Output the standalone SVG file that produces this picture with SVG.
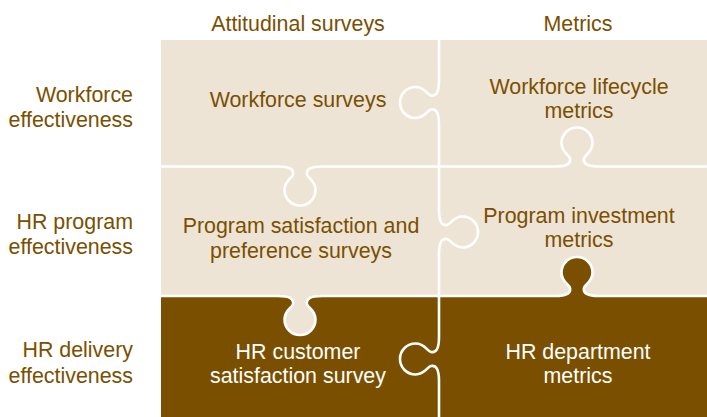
<svg xmlns="http://www.w3.org/2000/svg" width="707" height="417" viewBox="0 0 707 417">
  <style>
    .light { fill: #EEE4D6; }
    .dark { fill: #7A5000; }
    .seam { fill: none; stroke: #FFFFFF; stroke-width: 2.6; stroke-linejoin: round; stroke-linecap: butt; }
    text { font-family: "Liberation Sans", Arial, Helvetica, sans-serif; font-size: 21.4px; }
    .hdr { fill: #7A5000; text-anchor: middle; }
    .row { fill: #7A5000; text-anchor: end; }
    .on-light { fill: #7A5000; text-anchor: middle; }
    .on-dark { fill: #FFFFFF; text-anchor: middle; }
  </style>
  <rect width="707" height="417" fill="#FFFFFF"/>

  <!-- column headings -->
  <g id="column-headings">
    <text class="hdr" x="298" y="31">Attitudinal surveys</text>
    <text class="hdr" x="578" y="31">Metrics</text>
  </g>

  <!-- row headings -->
  <g id="row-headings">
    <text class="row" x="133" y="102">Workforce</text>
    <text class="row" x="133" y="127">effectiveness</text>
    <text class="row" x="133" y="229">HR program</text>
    <text class="row" x="133" y="254">effectiveness</text>
    <text class="row" x="133" y="357">HR delivery</text>
    <text class="row" x="133" y="383">effectiveness</text>
  </g>

  <!-- puzzle pieces -->
  <g id="workforce-surveys">
    <path class="light" d="M161,40 H439 V80.5 C439,92.5 436,96.5 431,95.5 C427,94.5 425,87 415.5,87 C406.94,87 400,93.94 400,102.5 C400,111.06 406.94,118 415.5,118 C425,118 427,110.5 431,109.5 C436,108.5 439,112.5 439,124.5 V166.5 H322 C310,166.5 306,169.5 307,174.5 C308,178.5 315.5,180.5 315.5,190 C315.5,198.56 308.56,205.5 300,205.5 C291.44,205.5 284.5,198.56 284.5,190 C284.5,180.5 292,178.5 293,174.5 C294,169.5 290,166.5 278,166.5 H161 Z"/>
    <text class="on-light" x="298" y="107">Workforce surveys</text>
  </g>

  <g id="workforce-lifecycle-metrics">
    <path class="light" d="M439,40 H707 V166.5 H599 C587,166.5 583,163.5 584,158.5 C585,154.5 592.5,152.5 592.5,143 C592.5,134.44 585.56,127.5 577,127.5 C568.44,127.5 561.5,134.44 561.5,143 C561.5,152.5 569,154.5 570,158.5 C571,163.5 567,166.5 555,166.5 H439 V124.5 C439,112.5 436,108.5 431,109.5 C427,110.5 425,118 415.5,118 C406.94,118 400,111.06 400,102.5 C400,93.94 406.94,87 415.5,87 C425,87 427,94.5 431,95.5 C436,96.5 439,92.5 439,80.5 Z"/>
    <text class="on-light" x="579" y="94">Workforce lifecycle</text>
    <text class="on-light" x="579" y="118">metrics</text>
  </g>

  <g id="program-investment-metrics">
    <path class="light" d="M439,166.5 H555 C567,166.5 571,163.5 570,158.5 C569,154.5 561.5,152.5 561.5,143 C561.5,134.44 568.44,127.5 577,127.5 C585.56,127.5 592.5,134.44 592.5,143 C592.5,152.5 585,154.5 584,158.5 C583,163.5 587,166.5 599,166.5 H707 V296 H599 C587,296 583,293 584,288 C585,284 592.5,282 592.5,272.5 C592.5,263.94 585.56,257 577,257 C568.44,257 561.5,263.94 561.5,272.5 C561.5,282 569,284 570,288 C571,293 567,296 555,296 H439 V254 C439,242 442,238 447,239 C451,240 453,247.5 462.5,247.5 C471.06,247.5 478,240.56 478,232 C478,223.44 471.06,216.5 462.5,216.5 C453,216.5 451,224 447,225 C442,226 439,222 439,210 Z"/>
    <text class="on-light" x="579" y="223">Program investment</text>
    <text class="on-light" x="579" y="247">metrics</text>
  </g>

  <g id="hr-department-metrics">
    <path class="dark" d="M439,296 H555 C567,296 571,293 570,288 C569,284 561.5,282 561.5,272.5 C561.5,263.94 568.44,257 577,257 C585.56,257 592.5,263.94 592.5,272.5 C592.5,282 585,284 584,288 C583,293 587,296 599,296 H707 V417 H439 V381 C439,369 436,365 431,366 C427,367 425,374.5 415.5,374.5 C406.94,374.5 400,367.56 400,359 C400,350.44 406.94,343.5 415.5,343.5 C425,343.5 427,351 431,352 C436,353 439,349 439,337 Z"/>
    <text class="on-dark" x="578" y="359">HR department</text>
    <text class="on-dark" x="578" y="383">metrics</text>
  </g>

  <g id="hr-customer-satisfaction-survey">
    <path class="dark" d="M161,296 H278 C290,296 294,299 293,304 C292,308 284.5,310 284.5,319.5 C284.5,328.06 291.44,335 300,335 C308.56,335 315.5,328.06 315.5,319.5 C315.5,310 308,308 307,304 C306,299 310,296 322,296 H439 V337 C439,349 436,353 431,352 C427,351 425,343.5 415.5,343.5 C406.94,343.5 400,350.44 400,359 C400,367.56 406.94,374.5 415.5,374.5 C425,374.5 427,367 431,366 C436,365 439,369 439,381 V417 H161 Z"/>
    <text class="on-dark" x="298" y="359">HR customer</text>
    <text class="on-dark" x="298" y="383">satisfaction survey</text>
  </g>

  <g id="program-satisfaction-surveys">
    <path class="light" d="M161,166.5 H278 C290,166.5 294,169.5 293,174.5 C292,178.5 284.5,180.5 284.5,190 C284.5,198.56 291.44,205.5 300,205.5 C308.56,205.5 315.5,198.56 315.5,190 C315.5,180.5 308,178.5 307,174.5 C306,169.5 310,166.5 322,166.5 H439 V210 C439,222 442,226 447,225 C451,224 453,216.5 462.5,216.5 C471.06,216.5 478,223.44 478,232 C478,240.56 471.06,247.5 462.5,247.5 C453,247.5 451,240 447,239 C442,238 439,242 439,254 V296 H322 C310,296 306,299 307,304 C308,308 315.5,310 315.5,319.5 C315.5,328.06 308.56,335 300,335 C291.44,335 284.5,328.06 284.5,319.5 C284.5,310 292,308 293,304 C294,299 290,296 278,296 H161 Z"/>
    <text class="on-light" x="301" y="233">Program satisfaction and</text>
    <text class="on-light" x="301" y="258">preference surveys</text>
  </g>

  <!-- cut lines between pieces -->
  <g id="seams">
    <path class="seam" d="M439,40 V80.5 C439,92.5 436,96.5 431,95.5 C427,94.5 425,87 415.5,87 C406.94,87 400,93.94 400,102.5 C400,111.06 406.94,118 415.5,118 C425,118 427,110.5 431,109.5 C436,108.5 439,112.5 439,124.5 V210 C439,222 442,226 447,225 C451,224 453,216.5 462.5,216.5 C471.06,216.5 478,223.44 478,232 C478,240.56 471.06,247.5 462.5,247.5 C453,247.5 451,240 447,239 C442,238 439,242 439,254 V337 C439,349 436,353 431,352 C427,351 425,343.5 415.5,343.5 C406.94,343.5 400,350.44 400,359 C400,367.56 406.94,374.5 415.5,374.5 C425,374.5 427,367 431,366 C436,365 439,369 439,381 V417"/>
    <path class="seam" d="M161,166.5 H278 C290,166.5 294,169.5 293,174.5 C292,178.5 284.5,180.5 284.5,190 C284.5,198.56 291.44,205.5 300,205.5 C308.56,205.5 315.5,198.56 315.5,190 C315.5,180.5 308,178.5 307,174.5 C306,169.5 310,166.5 322,166.5 H555 C567,166.5 571,163.5 570,158.5 C569,154.5 561.5,152.5 561.5,143 C561.5,134.44 568.44,127.5 577,127.5 C585.56,127.5 592.5,134.44 592.5,143 C592.5,152.5 585,154.5 584,158.5 C583,163.5 587,166.5 599,166.5 H707"/>
    <path class="seam" d="M161,296 H278 C290,296 294,299 293,304 C292,308 284.5,310 284.5,319.5 C284.5,328.06 291.44,335 300,335 C308.56,335 315.5,328.06 315.5,319.5 C315.5,310 308,308 307,304 C306,299 310,296 322,296 H555 C567,296 571,293 570,288 C569,284 561.5,282 561.5,272.5 C561.5,263.94 568.44,257 577,257 C585.56,257 592.5,263.94 592.5,272.5 C592.5,282 585,284 584,288 C583,293 587,296 599,296 H707"/>
  </g>
</svg>
